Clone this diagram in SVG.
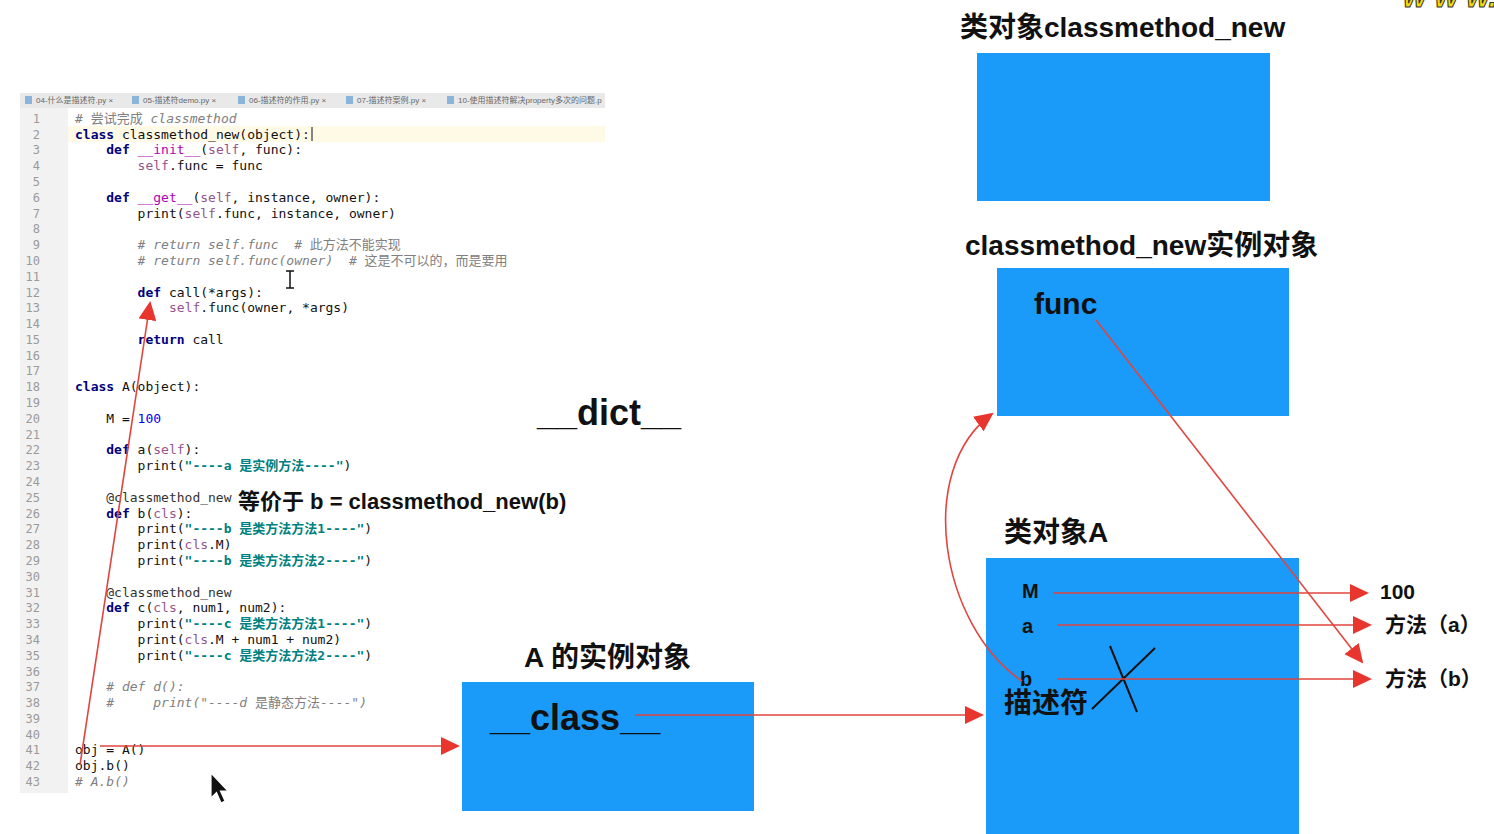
<svg xmlns="http://www.w3.org/2000/svg" width="1494" height="834" viewBox="0 0 1494 834">
<style>
.code{font-family:"DejaVu Sans Mono","Liberation Mono","Noto Sans CJK SC",monospace;font-size:13px;fill:#111;white-space:pre}
.ln{font-family:"DejaVu Sans Mono","Liberation Mono",monospace;font-size:12px;fill:#9a9a9a;text-anchor:end}
.kw{fill:#000080;font-weight:bold}
.sf{fill:#94558D}
.mg{fill:#B200B2}
.st{fill:#008080;font-weight:bold}
.nm{fill:#0000FF}
.cm{fill:#808080;font-style:italic}
.tab{font-family:"Liberation Sans","Noto Sans CJK SC",sans-serif;font-size:8px;fill:#666}
.lbl{font-family:"Liberation Sans","Noto Sans CJK SC",sans-serif;font-weight:bold;fill:#111}
.box{fill:#1A9AF9}
.conn{fill:none;stroke:#E0453F;stroke-width:1.6}
</style>
<defs>
<marker id="ah" markerUnits="userSpaceOnUse" markerWidth="20" markerHeight="18" refX="17" refY="9" orient="auto">
<path d="M0,0 L19,9 L0,18 z" fill="#E8362F"/>
</marker>
<clipPath id="edclip"><rect x="18" y="90" width="590" height="703"/></clipPath>
</defs>
<rect width="1494" height="834" fill="#ffffff"/>

<g id="code-editor" clip-path="url(#edclip)">
<rect x="20" y="93" width="585" height="15" fill="#E9E9E9"/>
<g class="tab">
<rect x="25" y="96" width="7" height="8" fill="#8AB4D8"/><text x="36" y="103">04-什么是描述符.py ×</text>
<rect x="132" y="96" width="7" height="8" fill="#8AB4D8"/><text x="143" y="103">05-描述符demo.py ×</text>
<rect x="238" y="96" width="7" height="8" fill="#8AB4D8"/><text x="249" y="103">06-描述符的作用.py ×</text>
<rect x="346" y="96" width="7" height="8" fill="#8AB4D8"/><text x="357" y="103">07-描述符案例.py ×</text>
<rect x="447" y="96" width="7" height="8" fill="#8AB4D8"/><text x="458" y="103">10-使用描述符解决property多次的问题.p</text>
</g>
<rect x="20" y="108" width="585" height="685" fill="#ffffff"/>
<rect x="20" y="108" width="48" height="685" fill="#F2F2F2"/>
<rect x="68" y="126" width="537" height="16" fill="#FFFAE6"/>
<line x1="312" y1="127" x2="312" y2="141" stroke="#111" stroke-width="1"/>
<g class="ln">
<text x="40" y="122.8">1</text><text x="40" y="138.6">2</text><text x="40" y="154.4">3</text><text x="40" y="170.2">4</text>
<text x="40" y="186">5</text><text x="40" y="201.8">6</text><text x="40" y="217.5">7</text><text x="40" y="233.3">8</text>
<text x="40" y="249.1">9</text><text x="40" y="264.9">10</text><text x="40" y="280.7">11</text><text x="40" y="296.5">12</text>
<text x="40" y="312.3">13</text><text x="40" y="328.1">14</text><text x="40" y="343.9">15</text><text x="40" y="359.6">16</text>
<text x="40" y="375.4">17</text><text x="40" y="391.2">18</text><text x="40" y="407">19</text><text x="40" y="422.8">20</text>
<text x="40" y="438.6">21</text><text x="40" y="454.4">22</text><text x="40" y="470.2">23</text><text x="40" y="486">24</text>
<text x="40" y="501.8">25</text><text x="40" y="517.6">26</text><text x="40" y="533.3">27</text><text x="40" y="549.1">28</text>
<text x="40" y="564.9">29</text><text x="40" y="580.7">30</text><text x="40" y="596.5">31</text><text x="40" y="612.3">32</text>
<text x="40" y="628.1">33</text><text x="40" y="643.9">34</text><text x="40" y="659.7">35</text><text x="40" y="675.5">36</text>
<text x="40" y="691.2">37</text><text x="40" y="707">38</text><text x="40" y="722.8">39</text><text x="40" y="738.6">40</text>
<text x="40" y="754.4">41</text><text x="40" y="770.2">42</text><text x="40" y="786">43</text>
</g>
<g class="code">
<text x="75" y="122.8" class="cm"># <tspan style="font-style:normal">尝试完成</tspan> classmethod</text>
<text x="75" y="138.6"><tspan class="kw">class</tspan> classmethod_new(object):</text>
<text x="106.3" y="154.4"><tspan class="kw">def</tspan> <tspan class="mg">__init__</tspan>(<tspan class="sf">self</tspan>, func):</text>
<text x="137.6" y="170.2"><tspan class="sf">self</tspan>.func = func</text>
<text x="106.3" y="201.8"><tspan class="kw">def</tspan> <tspan class="mg">__get__</tspan>(<tspan class="sf">self</tspan>, instance, owner):</text>
<text x="137.6" y="217.5">print(<tspan class="sf">self</tspan>.func, instance, owner)</text>
<text x="137.6" y="249.1" class="cm"># return self.func&#160; # <tspan style="font-style:normal">此方法不能实现</tspan></text>
<text x="137.6" y="264.9" class="cm"># return self.func(owner)&#160; # <tspan style="font-style:normal">这是不可以的，而是要用</tspan></text>
<text x="137.6" y="296.5"><tspan class="kw">def</tspan> call(*args):</text>
<text x="169" y="312.3"><tspan class="sf">self</tspan>.func(owner, *args)</text>
<text x="137.6" y="343.9"><tspan class="kw">return</tspan> call</text>
<text x="75" y="391.2"><tspan class="kw">class</tspan> A(object):</text>
<text x="106.3" y="422.8">M = <tspan class="nm">100</tspan></text>
<text x="106.3" y="454.4"><tspan class="kw">def</tspan> a(<tspan class="sf">self</tspan>):</text>
<text x="137.6" y="470.2">print(<tspan class="st">"----a 是实例方法----"</tspan>)</text>
<text x="106.3" y="501.8" fill="#333">@classmethod_new</text>
<text x="106.3" y="517.6"><tspan class="kw">def</tspan> b(<tspan class="sf">cls</tspan>):</text>
<text x="137.6" y="533.3">print(<tspan class="st">"----b 是类方法方法1----"</tspan>)</text>
<text x="137.6" y="549.1">print(<tspan class="sf">cls</tspan>.M)</text>
<text x="137.6" y="564.9">print(<tspan class="st">"----b 是类方法方法2----"</tspan>)</text>
<text x="106.3" y="596.5" fill="#333">@classmethod_new</text>
<text x="106.3" y="612.3"><tspan class="kw">def</tspan> c(<tspan class="sf">cls</tspan>, num1, num2):</text>
<text x="137.6" y="628.1">print(<tspan class="st">"----c 是类方法方法1----"</tspan>)</text>
<text x="137.6" y="643.9">print(<tspan class="sf">cls</tspan>.M + num1 + num2)</text>
<text x="137.6" y="659.7">print(<tspan class="st">"----c 是类方法方法2----"</tspan>)</text>
<text x="106.3" y="691.2" class="cm"># def d():</text>
<text x="106.3" y="707" class="cm">#&#160;&#160;&#160;&#160;&#160;print("----d <tspan style="font-style:normal">是静态方法</tspan>----")</text>
<text x="75" y="754.4">obj = A()</text>
<text x="75" y="770.2">obj.b()</text>
<text x="75" y="786" class="cm"># A.b()</text>
</g>
<path d="M286,271 h8 M290,271 v17 M286,288 h8" stroke="#111" stroke-width="1.5" fill="none"/>
</g>

<g id="label-equiv">
<text class="lbl" x="238" y="509" font-size="22">等价于 b = classmethod_new(b)</text>
</g>

<g id="label-dict">
<text class="lbl" x="537" y="425" font-size="36">__dict__</text>
</g>

<g id="node-classmethod-class">
<text class="lbl" x="960" y="37" font-size="28">类对象classmethod_new</text>
<rect class="box" x="977" y="53" width="293" height="148"/>
</g>

<g id="node-classmethod-instance">
<text class="lbl" x="965" y="255" font-size="28">classmethod_new实例对象</text>
<rect class="box" x="997" y="268" width="292" height="148"/>
<text class="lbl" x="1034" y="314" font-size="30">func</text>
</g>

<g id="node-instance-A">
<text class="lbl" x="524" y="667" font-size="28">A 的实例对象</text>
<rect class="box" x="462" y="682" width="292" height="129"/>
<text class="lbl" x="490" y="730" font-size="36">__class__</text>
</g>

<g id="node-class-A">
<text class="lbl" x="1004" y="542" font-size="28">类对象A</text>
<rect class="box" x="986" y="558" width="313" height="276"/>
<text class="lbl" x="1022" y="598" font-size="20">M</text>
<text class="lbl" x="1022" y="633" font-size="20">a</text>
<text class="lbl" x="1020" y="686" font-size="20">b</text>
<text class="lbl" x="1004" y="713" font-size="28">描述符</text>
<path d="M1110,646 L1137,712 M1155,648 L1092,709" stroke="#111" stroke-width="2" fill="none"/>
</g>

<g id="targets">
<text class="lbl" x="1380" y="599" font-size="21">100</text>
<text class="lbl" x="1385" y="632" font-size="21">方法（a）</text>
<text class="lbl" x="1385" y="686" font-size="21">方法（b）</text>
</g>

<g id="connectors">
<path class="conn" d="M80,765 L150,303" marker-end="url(#ah)"/>
<path class="conn" d="M100,746 L458,746" marker-end="url(#ah)"/>
<path class="conn" d="M635,715 L982,715" marker-end="url(#ah)"/>
<path class="conn" d="M1096,320 L1362,662" marker-end="url(#ah)"/>
<path class="conn" d="M1053,593 L1367,593" marker-end="url(#ah)"/>
<path class="conn" d="M1057,625 L1370,625" marker-end="url(#ah)"/>
<path class="conn" d="M1057,679 L1370,679" marker-end="url(#ah)"/>
<path class="conn" d="M1022,681 C940,625 915,470 992,414" marker-end="url(#ah)"/>
</g>

<path d="M211,773 L211,798 L216.5,792.5 L221,803 L225,801 L220.5,791 L228,791 Z" fill="#111" stroke="#fff" stroke-width="1.2"/>
<text x="1403" y="7" font-family="Liberation Sans, sans-serif" font-size="30" font-weight="bold" font-style="italic" fill="#F5D90A" stroke="#333" stroke-width="1">w w w.</text>
</svg>
